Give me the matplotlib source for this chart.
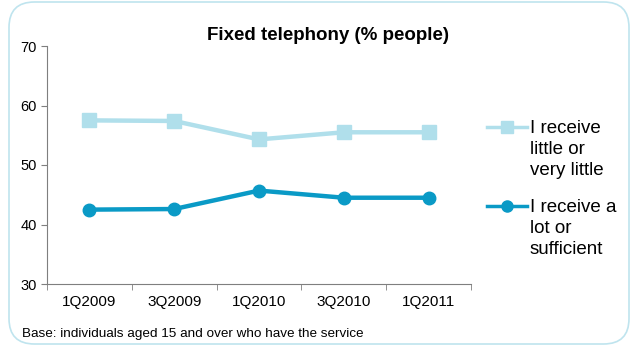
import matplotlib.pyplot as plt
from matplotlib.patches import FancyBboxPatch
from matplotlib.lines import Line2D
import matplotlib as mpl

mpl.rcParams['font.family'] = ['Liberation Sans', 'DejaVu Sans']

quarters = ['1Q2009', '3Q2009', '1Q2010', '3Q2010', '1Q2011']
little = [57.5, 57.4, 54.3, 55.5, 55.5]
lot = [42.5, 42.6, 45.7, 44.5, 44.5]
labels = ['I receive\nlittle or\nvery little', 'I receive a\nlot or\nsufficient']

light = '#B0DFEB'
dark = '#0A9AC6'
axis_grey = '#7F7F7F'

W, H = 635, 349
fig = plt.figure(figsize=(W / 100, H / 100), dpi=100)

# rounded frame around the whole chart
frame = FancyBboxPatch((9 / W, 5 / H), 620 / W, 342 / H,
                       boxstyle='round,pad=0,rounding_size=0.04',
                       transform=fig.transFigure, fc='white',
                       ec='#BFE4EE', lw=1.2, mutation_aspect=W / H,
                       zorder=-5)
fig.patches.append(frame)

ax = fig.add_axes([47 / W, 1 - 284 / H, 424 / W, 238 / H])
x = range(len(quarters))
ax.plot(x, little, color=light, lw=3.2, marker='s', ms=9.5)
ax.plot(x, lot, color=dark, lw=3.2, marker='o', ms=9)

ax.set_xlim(-0.5, len(quarters) - 0.5)
ax.set_ylim(30, 70)
ax.set_yticks([30, 40, 50, 60, 70])
ax.set_xticks(list(x))
ax.set_xticklabels(quarters, fontsize=11)
ax.set_xticks([i - 0.5 for i in range(len(quarters) + 1)], minor=True)
ax.tick_params(axis='x', which='major', length=0, pad=8)
ax.tick_params(axis='x', which='minor', length=4, color=axis_grey)
ax.tick_params(axis='y', length=4, color=axis_grey, labelsize=10.5)
for s in ['top', 'right']:
    ax.spines[s].set_visible(False)
for s in ['left', 'bottom']:
    ax.spines[s].set_color(axis_grey)
ax.patch.set_alpha(0)

fig.text(328 / W, 1 - 35 / H, 'Fixed telephony (% people)',
         fontsize=13.5, fontweight='bold', ha='center', va='center')

# legend keys with the label wrapped beside them, key level with first line
keys = [(light, 's', 8.5, 127), (dark, 'o', 8, 206)]
for (col, mk, size, ky), text in zip(keys, labels):
    fig.add_artist(Line2D([487 / W, 527 / W], [1 - ky / H, 1 - ky / H],
                          transform=fig.transFigure, color=col, lw=2.5,
                          zorder=3))
    fig.add_artist(Line2D([507 / W], [1 - ky / H], transform=fig.transFigure,
                          color=col, marker=mk, ms=size, ls='none', zorder=4))
    fig.text(530 / W, 1 - (ky - 7) / H, text, fontsize=13.5, va='top',
             ha='left', linespacing=1.32)

fig.text(22 / W, 1 - 334 / H,
         'Base: individuals aged 15 and over who have the service',
         fontsize=9.7, va='center')

fig.savefig('out.png', dpi=100)
